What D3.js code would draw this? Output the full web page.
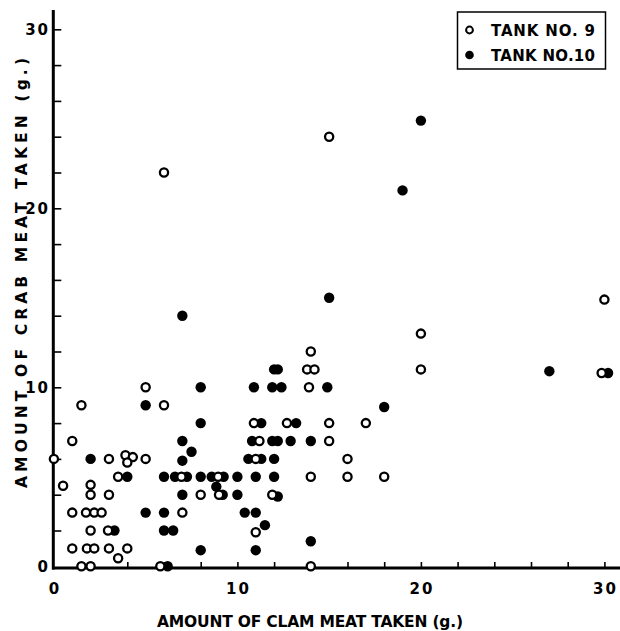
<!DOCTYPE html>
<html>
<head>
<meta charset="utf-8">
<title>Crab vs clam meat</title>
<script src="https://d3js.org/d3.v7.min.js"></script>
<style>
  body { margin: 0; background: #fff; }
  text { font-family: "DejaVu Sans", sans-serif; font-weight: bold; fill: #000; }
</style>
</head>
<body>
<div id="chart"></div>
<script>
// tank no. 9 (open circles)
var tank9X = [0, 0.5, 1, 1.5, 1, 1.75, 2.2, 2.6, 2, 2, 3, 3.9, 4.3, 4, 5, 3.5, 3, 2, 2.95, 1, 1.8, 2.2, 3, 4, 3.5, 1.5, 2,
              5, 6, 5.8, 7, 6.95, 8, 8.95, 9, 6, 15, 11, 14, 11, 11.2, 10.9, 12.7, 11.9, 13.8, 14.2, 14, 13.9, 15, 15, 17,
              16, 14, 16, 18, 20, 20, 30, 29.85];
var tank9Y = [6, 4.5, 7, 9, 3, 3, 3, 3, 4.55, 4, 6, 6.2, 6.1, 5.8, 6, 5, 4, 2, 2, 1, 1, 1, 1, 1, 0.45, 0, 0,
              10, 9, 0, 3, 5, 4, 5, 4, 22, 24, 1.9, 0, 6, 7, 8, 8, 4, 11, 11, 12, 10, 8, 7, 8,
              6, 5, 5, 5, 11, 13, 14.9, 10.8];

// tank no. 10 (filled circles)
var tank10X = [2, 5, 8, 8, 7, 7.5, 7, 4, 6, 6.6, 7.25, 8, 8.6, 9.25, 10, 11, 12, 8.85, 7, 9.2, 10, 12.2, 5, 6, 3.3, 6, 6.5,
               8, 6.2, 10.4, 11, 11.5, 14, 11, 10.6, 11.3, 12, 10.8, 11.9, 12.2, 12.9, 14, 11.3, 13.2, 10.9, 11.9, 12.4, 14.9,
               12, 12.2, 18, 7, 15, 19, 20, 27, 30.2];
var tank10Y = [6, 9, 10, 8, 7, 6.4, 5.9, 5, 5, 5, 5, 5, 5, 5, 5, 5, 5, 4.45, 4, 4, 4, 3.9, 3, 3, 2, 2, 2,
               0.9, 0, 3, 3, 2.3, 1.4, 0.9, 6, 6, 6, 7, 7, 7, 7, 7, 8, 8, 10, 10, 10, 10,
               11, 11, 8.9, 14, 15, 21, 24.9, 10.9, 10.8];

var ticks = [2, 4, 6, 8, 10, 12, 14, 16, 18, 20, 22, 24, 26, 28, 30];
var tickLabels = [0, 10, 20, 30];
var legendNames = ["TANK NO. 9", "TANK NO.10"];

var width = 620, height = 631;

var x = d3.scaleLinear().domain([0, 30]).range([53.9, 604.4]);
var y = d3.scaleLinear().domain([0, 30]).range([566.3, 29.3]);

var svg = d3.select("#chart").append("svg")
    .attr("width", width)
    .attr("height", height);

// axes
var axisY = 568;
svg.append("g")
    .attr("transform", "translate(0," + axisY + ")")
    .call(d3.axisTop(x).tickValues(ticks).tickSize(6).tickFormat(""))
    .call(g => g.select(".domain").remove())
    .selectAll("line").attr("stroke", "#000").attr("stroke-width", 1.6);

svg.append("g")
    .attr("transform", "translate(53.3,0)")
    .call(d3.axisRight(y).tickValues(ticks).tickSize(8).tickFormat(""))
    .call(g => g.select(".domain").remove())
    .selectAll("line").attr("stroke", "#000").attr("stroke-width", 1.6);

svg.append("line")
    .attr("x1", 53.3).attr("x2", 53.3)
    .attr("y1", 10).attr("y2", axisY + 1.5)
    .attr("stroke", "#000").attr("stroke-width", 3);
svg.append("line")
    .attr("x1", 52).attr("x2", 620)
    .attr("y1", axisY).attr("y2", axisY)
    .attr("stroke", "#000").attr("stroke-width", 3);

// tick labels
svg.selectAll(".xlab").data(tickLabels).enter().append("text")
    .attr("x", d => x(d) + 1)
    .attr("y", 594)
    .attr("text-anchor", "middle")
    .style("font-size", "15px")
    .style("letter-spacing", "2px")
    .text(d => d);

svg.selectAll(".ylab").data(tickLabels).enter().append("text")
    .attr("x", 50)
    .attr("y", d => y(d) + 5.5)
    .attr("text-anchor", "end")
    .style("font-size", "15px")
    .style("letter-spacing", "2px")
    .text(d => d);

// axis titles
svg.append("text")
    .attr("x", 157).attr("y", 627)
    .attr("textLength", 306).attr("lengthAdjust", "spacing")
    .style("font-size", "15.5px")
    .text("AMOUNT OF CLAM MEAT TAKEN (g.)");

svg.append("text")
    .attr("transform", "translate(27,488) rotate(-90)")
    .attr("textLength", 430).attr("lengthAdjust", "spacing")
    .style("font-size", "15.5px")
    .text("AMOUNT OF CRAB MEAT TAKEN (g.)");

// points
var open = tank9X.map((v, i) => [v, tank9Y[i]]);
var filled = tank10X.map((v, i) => [v, tank10Y[i]]);

svg.selectAll(".p10").data(filled).enter().append("circle")
    .attr("cx", d => x(d[0]))
    .attr("cy", d => y(d[1]))
    .attr("r", 5.2)
    .attr("fill", "#000");

svg.selectAll(".p9").data(open).enter().append("circle")
    .attr("cx", d => x(d[0]))
    .attr("cy", d => y(d[1]))
    .attr("r", 4.1)
    .attr("fill", "#fff")
    .attr("stroke", "#000")
    .attr("stroke-width", 2.3);

// legend
var legend = svg.append("g");
legend.append("rect")
    .attr("x", 457.5).attr("y", 12)
    .attr("width", 148).attr("height", 57)
    .attr("fill", "#fff")
    .attr("stroke", "#000").attr("stroke-width", 1.5);

legendNames.forEach(function(name, i) {
    var ly = 30 + i * 25;
    var c = legend.append("circle")
        .attr("cx", 469.5).attr("cy", ly);
    if (i == 0) {
        c.attr("r", 3.4).attr("fill", "#fff").attr("stroke", "#000").attr("stroke-width", 2);
    } else {
        c.attr("r", 4.3).attr("fill", "#000");
    }
    legend.append("text")
        .attr("x", 491).attr("y", ly + 5.5)
        .attr("textLength", 104).attr("lengthAdjust", "spacing")
        .style("font-size", "15px")
        .text(name);
});
</script>
</body>
</html>
